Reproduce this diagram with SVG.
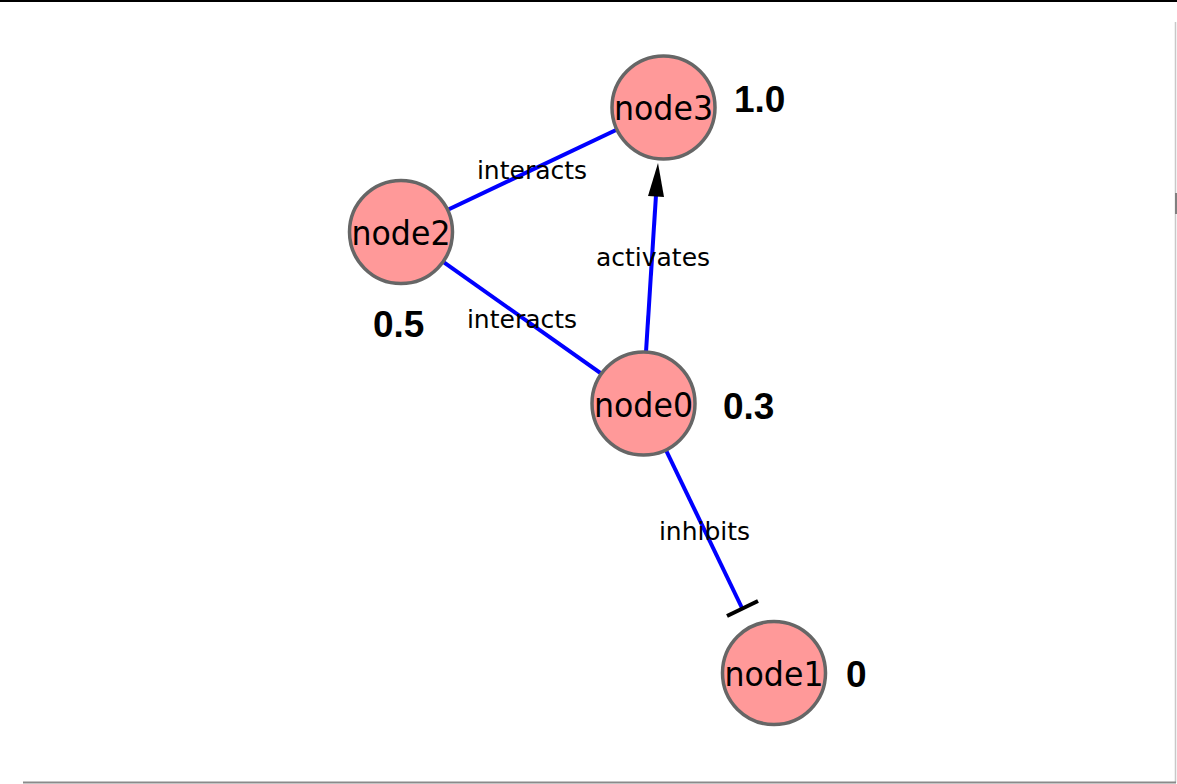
<svg xmlns="http://www.w3.org/2000/svg" width="1177" height="784" viewBox="0 0 1177 784">
  <style>
    .edge { stroke: #0000ff; stroke-width: 4; fill: none; }
    .node circle { fill: #ff9999; stroke: #666666; stroke-width: 3.5; }
    .node text { font-family: "DejaVu Sans", sans-serif; font-size: 34px; fill: #000; text-anchor: middle; }
    .elabel { font-family: "DejaVu Sans", sans-serif; font-size: 25px; fill: #000; text-anchor: middle; }
    .value { font-family: "Liberation Sans", Arial, sans-serif; font-size: 37px; font-weight: bold; fill: #000; }
  </style>

  <!-- frame -->
  <rect x="0" y="0" width="1177" height="784" fill="#ffffff"/>
  <line x1="0" y1="1" x2="1177" y2="1" stroke="#000" stroke-width="2"/>
  <line x1="1175.5" y1="22" x2="1175.5" y2="783" stroke="#c8c8c8" stroke-width="1.5"/>
  <line x1="1176" y1="193" x2="1176" y2="214" stroke="#808080" stroke-width="2"/>
  <line x1="23" y1="782.5" x2="1176" y2="782.5" stroke="#8a8a8a" stroke-width="2"/>

  <!-- connectors -->
  <g id="edges">
    <line class="edge" x1="401" y1="232" x2="663.5" y2="107.5"/>
    <line class="edge" x1="401" y1="232" x2="643.5" y2="403.5"/>
    <line class="edge" x1="646" y1="352" x2="656" y2="195"/>
    <polygon points="658,163 664,197 648,196" fill="#000"/>
    <line class="edge" x1="643.5" y1="403.5" x2="742" y2="608"/>
    <line x1="727" y1="616" x2="758" y2="601" stroke="#000" stroke-width="4"/>
    <text class="elabel" x="532" y="179">interacts</text>
    <text class="elabel" x="653" y="266">activates</text>
    <text class="elabel" x="522" y="328">interacts</text>
    <text class="elabel" x="704.5" y="540">inhibits</text>
  </g>

  <!-- nodes -->
  <g id="node3" class="node">
    <circle cx="663.5" cy="107.5" r="51.5"/>
    <text x="663.5" y="120" textLength="99" lengthAdjust="spacingAndGlyphs">node3</text>
  </g>
  <g id="node2" class="node">
    <circle cx="401" cy="232" r="51.5"/>
    <text x="401" y="245" textLength="99" lengthAdjust="spacingAndGlyphs">node2</text>
  </g>
  <g id="node0" class="node">
    <circle cx="643.5" cy="403.5" r="51.5"/>
    <text x="643.5" y="417" textLength="99" lengthAdjust="spacingAndGlyphs">node0</text>
  </g>
  <g id="node1" class="node">
    <circle cx="774" cy="673" r="51.5"/>
    <text x="774" y="686" textLength="99" lengthAdjust="spacingAndGlyphs">node1</text>
  </g>

  <!-- values -->
  <text class="value" x="734" y="112">1.0</text>
  <text class="value" x="373" y="337">0.5</text>
  <text class="value" x="723" y="419">0.3</text>
  <text class="value" x="846" y="687">0</text>
</svg>
